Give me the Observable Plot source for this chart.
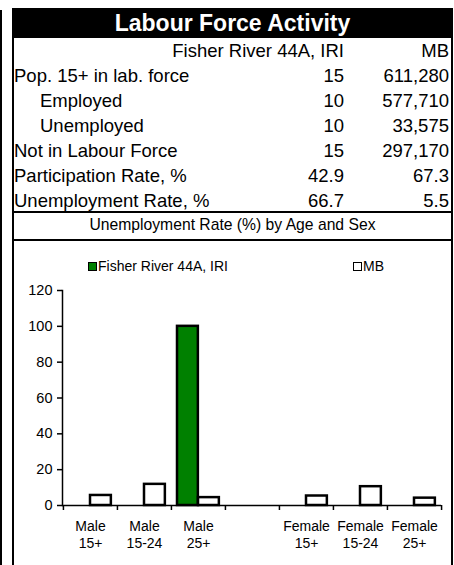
<!DOCTYPE html>
<html><head><meta charset="utf-8">
<script src="https://cdn.jsdelivr.net/npm/d3@7"></script>
<script src="https://cdn.jsdelivr.net/npm/@observablehq/plot@0.6"></script>
<style>
body{margin:0;background:#fff;font-family:"Liberation Sans",Arial,sans-serif;color:#000;}
#root{position:relative;width:454px;height:565px;overflow:hidden;background:#fff;}
.abs{position:absolute;}
.blk{position:absolute;background:#000;}
.row{position:absolute;left:14px;width:437px;height:25px;line-height:25px;font-size:18.5px;white-space:nowrap;}
.row .lab{position:absolute;left:0;}
.row .lab.ind{left:26px;}
.row .v1{position:absolute;right:107px;}
.row .v2{position:absolute;right:2px;}
#title{left:12px;top:8px;width:441px;height:30px;line-height:30px;background:#000;color:#fff;font-weight:bold;font-size:23px;text-align:center;}
#ctitle{left:14px;top:212px;width:437px;height:27px;line-height:25px;font-size:15.7px;text-align:center;}
#chart{left:14px;top:242px;}
.leg{position:absolute;font-size:14px;line-height:16px;white-space:nowrap;}
.sw{display:inline-block;width:7px;height:7px;border:1.5px solid #000;vertical-align:-0px;margin-right:1px;}
</style></head>
<body><div id="root"></div>
<script>
const mainTitle = "Labour Force Activity";
const columnHeaders = ["Fisher River 44A, IRI", "MB"];
const tableLabels = ["Pop. 15+ in lab. force","Employed","Unemployed","Not in Labour Force","Participation Rate, %","Unemployment Rate, %"];
const tableIndented = [false,true,true,false,false,false];
const fisherTableValues = ["15","10","10","15","42.9","66.7"];
const mbTableValues = ["611,280","577,710","33,575","297,170","67.3","5.5"];
const chartTitle = "Unemployment Rate (%) by Age and Sex";
const seriesNames = ["Fisher River 44A, IRI","MB"];
const categories = ["Male 15+","Male 15-24","Male 25+","","Female 15+","Female 15-24","Female 25+"];
const fisherRates = [null,null,100,null,null,null,null];
const mbRates = [5.6,11.8,4.4,null,5.3,10.5,4.1];
const yTicks = [0,20,40,60,80,100,120];

const root = document.getElementById("root");
function el(cls, css, txt){const d=document.createElement("div");if(cls)d.className=cls;Object.assign(d.style,css||{});if(txt!=null)d.textContent=txt;root.appendChild(d);return d;}

// borders
el("blk",{left:"0px",top:"10px",width:"2px",height:"555px"});
el("blk",{left:"12px",top:"8px",width:"2px",height:"557px"});
el("blk",{left:"451px",top:"8px",width:"2px",height:"557px"});
el("blk",{left:"12px",top:"211px",width:"441px",height:"2px"});
el("blk",{left:"12px",top:"239px",width:"441px",height:"2px"});
const t = el("abs",{},mainTitle); t.id="title";

// header row
const hr = el("row",{top:"38px"});
const h1=document.createElement("span");h1.className="v1";h1.textContent=columnHeaders[0];hr.appendChild(h1);
const h2=document.createElement("span");h2.className="v2";h2.textContent=columnHeaders[1];hr.appendChild(h2);
tableLabels.forEach((lab,i)=>{
  const r = el("row",{top:(63+25*i)+"px"});
  const a=document.createElement("span");a.className="lab"+(tableIndented[i]?" ind":"");a.textContent=lab;r.appendChild(a);
  const b=document.createElement("span");b.className="v1";b.textContent=fisherTableValues[i];r.appendChild(b);
  const c=document.createElement("span");c.className="v2";c.textContent=mbTableValues[i];r.appendChild(c);
});
const ct = el("abs",{},chartTitle); ct.id="ctitle";

// legend
const colors = ["#008000","#ffffff"];
const legPos = [[88,258],[353,258]];
seriesNames.forEach((s,i)=>{
  const l = el("leg",{left:legPos[i][0]+"px",top:legPos[i][1]+"px"});
  const sw=document.createElement("span");sw.className="sw";sw.style.background=colors[i];l.appendChild(sw);
  l.appendChild(document.createTextNode(s));
});

const data = [];
categories.forEach((c,i)=>{
  if(fisherRates[i]!=null) data.push({category:c, series:seriesNames[0], value:fisherRates[i]});
  if(mbRates[i]!=null) data.push({category:c, series:seriesNames[1], value:mbRates[i]});
});

const W=438,H=323,mL=48,mR=11,mT=48,mB=60;
const bw=(W-mL-mR)/categories.length;
const chart = Plot.plot({
  width:W,height:H,marginLeft:mL,marginRight:mR,marginTop:mT,marginBottom:mB,
  style:{fontFamily:'"Liberation Sans",Arial,sans-serif',fontSize:"14px",color:"#000",background:"transparent",overflow:"visible"},
  x:{domain:categories,paddingInner:0,paddingOuter:0,label:null,axis:null},
  y:{domain:[0,120],label:null,axis:null},
  marks:[
    Plot.barY(data.filter(d=>d.series===seriesNames[0]),{x:"category",y:"value",fill:colors[0],stroke:"#000",strokeWidth:2.5,insetLeft:6,insetRight:bw-27}),
    Plot.barY(data.filter(d=>d.series===seriesNames[1]),{x:"category",y:"value",fill:colors[1],stroke:"#000",strokeWidth:2.5,insetLeft:27,insetRight:bw-48}),
    Plot.ruleY([0],{stroke:"#000",strokeWidth:1.5}),
    Plot.frame({anchor:"left",stroke:"#000",strokeWidth:1.5}),
    Plot.axisY({ticks:yTicks,tickSize:5,tickPadding:5,label:null,stroke:"#000",strokeWidth:1.5,fill:"#000",fontSize:14.5}),
    Plot.axisX({tickSize:0,tickPadding:14,label:null,fill:"#000",fontSize:14,lineHeight:1.2,tickFormat:d=>d.replace(" ","\n")}),
    Plot.axisX({tickSize:5,label:null,stroke:"#000",strokeWidth:1.5,tickFormat:()=>"",dx:-bw/2}),
    Plot.axisX({ticks:[categories[categories.length-1]],tickSize:5,label:null,stroke:"#000",strokeWidth:1.5,tickFormat:()=>"",dx:bw/2})
  ]
});
chart.id="chart";
chart.style.position="absolute";chart.style.left="14px";chart.style.top="242px";
root.appendChild(chart);
</script></body></html>
